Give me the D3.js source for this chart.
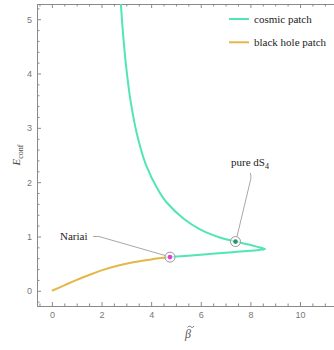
<!DOCTYPE html>
<html>
<head>
<meta charset="utf-8">
<script src="https://cdnjs.cloudflare.com/ajax/libs/d3/7.8.5/d3.min.js"></script>
<style>
  body { margin: 0; background: #fff; }
  svg text { font-family: "Liberation Sans", Arial, sans-serif; }
  .serif { font-family: "Liberation Serif", "DejaVu Serif", serif !important; }
</style>
</head>
<body>
<div id="chart"></div>
<script>
// cosmic patch (beta, E)
const cosmicBeta = [2.70, 2.78, 2.875, 3.01, 3.17, 3.42, 3.79, 4.33, 4.62, 5.30, 5.97, 6.77, 7.40, 7.98, 8.35, 8.59, 8.40, 7.98, 7.00, 6.24, 5.50, 4.76];
const cosmicE    = [5.78, 5.28, 4.69, 4.06, 3.50, 2.90, 2.32, 1.82, 1.63, 1.33, 1.13, 0.98, 0.906, 0.846, 0.80, 0.772, 0.755, 0.735, 0.70, 0.672, 0.645, 0.62];
// black hole patch
const bhBeta = [0, 0.5, 1.0, 1.5, 2.0, 2.6, 3.27, 4.0, 4.76];
const bhE    = [0, 0.10, 0.20, 0.29, 0.375, 0.455, 0.525, 0.578, 0.62];
// marked points
const nariai = [4.76, 0.62];
const pureDS = [7.40, 0.906];

const xMajor = [0, 2, 4, 6, 8, 10];
const yMajor = [0, 1, 2, 3, 4, 5];

const W = 334, H = 350;
const colCosmic = "#52e5b6", colBH = "#e3b846";

const svg = d3.select("#chart").append("svg")
    .attr("width", W).attr("height", H);

const x = d3.scaleLinear().domain([-0.6, 11.37]).range([37, 334]);
const y = d3.scaleLinear().domain([-0.28, 5.28]).range([306, 4]);

const xMinor = d3.range(-0.5, 11.3, 0.5).filter(v => !xMajor.includes(v));
const yMinor = d3.range(-0.2, 5.25, 0.2).map(v => +v.toFixed(1)).filter(v => !yMajor.includes(v));

const axisCol = "#8a8a8a";
const fmt = d3.format("d");

// bottom frame
let gb = svg.append("g").attr("transform", "translate(0," + y.range()[0] + ")");
gb.call(d3.axisBottom(x).tickValues(xMajor).tickFormat(fmt).tickSizeInner(-4).tickSizeOuter(0).tickPadding(6))
gb.append("g").call(d3.axisBottom(x).tickValues(xMinor).tickSizeInner(-2.5).tickSizeOuter(0).tickFormat(""));
// top frame
let gt = svg.append("g").attr("transform", "translate(0," + y.range()[1] + ")");
gt.call(d3.axisTop(x).tickValues(xMajor).tickSizeInner(-4).tickSizeOuter(0).tickFormat(""));
gt.append("g").call(d3.axisTop(x).tickValues(xMinor).tickSizeInner(-2.5).tickSizeOuter(0).tickFormat(""));
// left frame
let gl = svg.append("g").attr("transform", "translate(" + x.range()[0] + ",0)");
gl.call(d3.axisLeft(y).tickValues(yMajor).tickFormat(fmt).tickSizeInner(-4).tickSizeOuter(0).tickPadding(5));
gl.append("g").call(d3.axisLeft(y).tickValues(yMinor).tickSizeInner(-2.5).tickSizeOuter(0).tickFormat(""));

svg.selectAll(".domain").attr("stroke", axisCol);
svg.selectAll(".tick line").attr("stroke", axisCol);
svg.selectAll(".tick text").attr("fill", "#777").style("font-size", "9px");

// curves
const line = d3.line().x(d => x(d[0])).y(d => y(d[1])).curve(d3.curveCatmullRom.alpha(0.5));
svg.append("clipPath").attr("id", "clip").append("rect")
    .attr("x", x.range()[0]).attr("y", y.range()[1])
    .attr("width", x.range()[1] - x.range()[0]).attr("height", y.range()[0] - y.range()[1]);

const plot = svg.append("g").attr("clip-path", "url(#clip)");
plot.append("path")
    .datum(bhBeta.map((b, i) => [b, bhE[i]]))
    .attr("fill", "none").attr("stroke", colBH).attr("stroke-width", 2)
    .attr("d", line);
plot.append("path")
    .datum(cosmicBeta.map((b, i) => [b, cosmicE[i]]))
    .attr("fill", "none").attr("stroke", colCosmic).attr("stroke-width", 2)
    .attr("d", line);

// callouts
const callCol = "#a8a8a8";
svg.append("path")
    .attr("d", "M" + 93 + "," + 236.5 + " L" + 99 + "," + 236.5 + " L" + (x(nariai[0]) - 4.5) + "," + (y(nariai[1]) - 1.5))
    .attr("fill", "none").attr("stroke", callCol).attr("stroke-width", 1);
svg.append("path")
    .attr("d", "M" + 250.5 + "," + 173 + " L" + 251 + "," + 178 + " L" + (x(pureDS[0]) + 1.5) + "," + (y(pureDS[1]) - 5))
    .attr("fill", "none").attr("stroke", callCol).attr("stroke-width", 1);

function marker(p, col) {
    svg.append("circle").attr("cx", x(p[0])).attr("cy", y(p[1])).attr("r", 5)
        .attr("fill", "#fff").attr("fill-opacity", 0.6)
        .attr("stroke", "#999").attr("stroke-width", 1);
    svg.append("circle").attr("cx", x(p[0])).attr("cy", y(p[1])).attr("r", 2.3)
        .attr("fill", col);
}
marker(nariai, "#dc3fe0");
marker(pureDS, "#2b9270");

svg.append("text").attr("class", "serif").attr("x", 60).attr("y", 240)
    .style("font-size", "11px").attr("fill", "#222").text("Nariai");
let ds = svg.append("text").attr("class", "serif").attr("x", 231).attr("y", 166)
    .style("font-size", "11px").attr("fill", "#222");
ds.append("tspan").text("pure dS");
ds.append("tspan").attr("dy", 3).style("font-size", "8px").text("4");

// legend
const legend = [["cosmic patch", colCosmic], ["black hole patch", colBH]];
legend.forEach((d, i) => {
    const ly = 19 + i * 23.3;
    svg.append("line").attr("x1", 229).attr("x2", 249).attr("y1", ly).attr("y2", ly)
        .attr("stroke", d[1]).attr("stroke-width", 2);
    svg.append("text").attr("class", "serif").attr("x", 254).attr("y", ly + 3.5)
        .style("font-size", "11px").attr("fill", "#222").text(d[0]);
});

// axis labels
let yl = svg.append("text").attr("class", "serif")
    .attr("transform", "translate(20,155) rotate(-90)")
    .attr("text-anchor", "middle").attr("fill", "#444").style("font-size", "11px");
yl.append("tspan").style("font-style", "italic").text("E");
yl.append("tspan").attr("dy", 2.5).style("font-size", "8px").text("conf");

svg.append("text").attr("class", "serif").attr("x", 185).attr("y", 338)
    .attr("fill", "#555").style("font-size", "12px").style("font-style", "italic").text("\u03B2");
// tilde accent over beta
svg.append("path")
    .attr("d", "M187.5,327.5 C188.5,325.8 189.8,325.9 190.8,326.8 C191.8,327.7 193,327.8 194,326")
    .attr("fill", "none").attr("stroke", "#555").attr("stroke-width", 0.8);
</script>
</body>
</html>
